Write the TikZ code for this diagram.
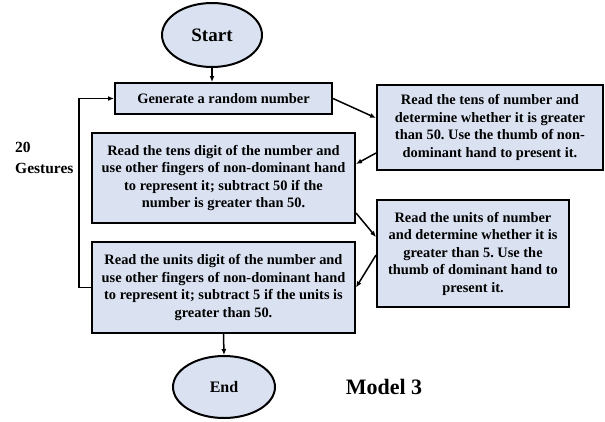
\documentclass[tikz,border=0pt]{standalone}
\usepackage{fontspec}
\setmainfont{Liberation Serif}
\usetikzlibrary{shapes.geometric,arrows.meta}
\definecolor{boxfill}{HTML}{DAE2F2}
\frenchspacing
\tikzset{
  x=1pt,y=-1pt,
  procbox/.style={draw=black,line width=2pt,fill=boxfill,rectangle,inner sep=0pt,
    align=center,font=\bfseries\fontsize{14.4}{17.5}\selectfont},
  termnode/.style={draw=black,line width=2pt,fill=boxfill,ellipse,inner sep=0pt},
  arr/.style={line width=1.5pt,-{Latex[length=6pt,width=5pt]}}
}
\begin{document}
\frenchspacing
\begin{tikzpicture}
\useasboundingbox (0,0) rectangle (605,421);
\node[termnode,minimum width=100pt,minimum height=64pt,font=\bfseries\fontsize{19}{22}\selectfont] (start) at (212,35) {Start};
\node[procbox,minimum width=217pt,minimum height=31pt] (gen) at (223.5,98.5) {Generate a random number};
\node[procbox,minimum width=263pt,minimum height=90pt] (tens) at (223.5,178) {Read the tens digit of the number and\\use other fingers of non-dominant hand\\to represent it; subtract 50 if the\\number is greater than 50.};
\node[procbox,minimum width=263pt,minimum height=91pt] (units) at (223.5,287.5) {Read the units digit of the number and\\use other fingers of non-dominant hand\\to represent it; subtract 5 if the units is\\greater than 50.};
\node[procbox,minimum width=226pt,minimum height=85pt] (r1) at (490,127.5) {Read the tens of number and\\determine whether it is greater\\than 50. Use the thumb of non-\\dominant hand to present it.};
\node[procbox,minimum width=192pt,minimum height=107pt] (r2) at (473,253.5) {Read the units of number\\and determine whether it is\\greater than 5. Use the\\thumb of dominant hand to\\present it.};
\node[termnode,minimum width=102pt,minimum height=62pt,font=\bfseries\fontsize{16}{19}\selectfont] (end) at (224,387) {End};
\node[anchor=west,align=left,inner sep=0pt,font=\bfseries\fontsize{15.5}{21}\selectfont] (gest) at (15,158) {20\\Gestures};
\node[inner sep=0pt,font=\bfseries\fontsize{22}{26}\selectfont] (model) at (384,387) {Model 3};
\coordinate (lp) at (79,287);
\draw[arr] (start.south) -- (gen.north -| start.south);
\draw[arr] (gen.east) -- ([yshift=9.5pt]r1.west);
\draw[arr] ([yshift=-25.5pt]r1.west) -- ([yshift=14pt]tens.east);
\draw[arr] ([yshift=-35pt]tens.east) -- ([yshift=16.5pt]r2.west);
\draw[arr] ([yshift=-1.5pt]r2.west) -- (units.east);
\draw[arr] (units.south) -- (end.north);
\draw[arr] (units.west) -- (units.west -| lp) |- (gen.west);
\end{tikzpicture}
\end{document}
